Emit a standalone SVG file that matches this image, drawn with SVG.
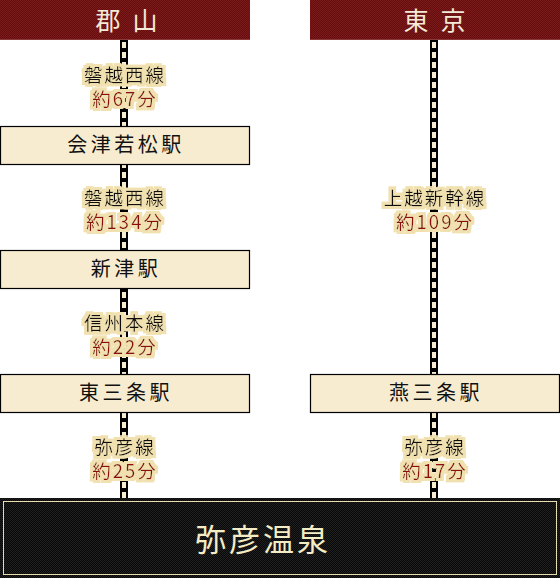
<svg xmlns="http://www.w3.org/2000/svg" width="560" height="578" viewBox="0 0 560 578">
<defs>
<pattern id="redck" width="2" height="2" patternUnits="userSpaceOnUse">
<rect width="2" height="2" fill="#680d0d"/>
<rect width="1" height="1" fill="#7a1a1a"/>
<rect x="1" y="1" width="1" height="1" fill="#7a1a1a"/>
</pattern>
<pattern id="blkck" width="2" height="2" patternUnits="userSpaceOnUse">
<rect width="2" height="2" fill="#080808"/>
<rect width="1" height="1" fill="#202020"/>
<rect x="1" y="1" width="1" height="1" fill="#202020"/>
</pattern>
<filter id="glow" x="-20%" y="-40%" width="140%" height="180%">
<feMorphology in="SourceAlpha" operator="dilate" radius="2.5" result="d"/>
<feGaussianBlur in="d" stdDeviation="0.7" result="b"/>
<feFlood flood-color="#f1e1b0"/>
<feComposite in2="b" operator="in" result="g"/>
<feMerge><feMergeNode in="g"/><feMergeNode in="g"/><feMergeNode in="SourceGraphic"/></feMerge>
</filter>
</defs>
<style>
.hdr{fill:url(#redck)}
.htxt{font-family:"Noto Sans CJK JP","Noto Sans CJK SC",sans-serif;font-size:25px;fill:#f3ead8;text-anchor:middle}
.stn{fill:#f8ecd0;stroke:#000;stroke-width:1.2}
.stxt{font-family:"Noto Sans CJK JP","Noto Sans CJK SC",sans-serif;font-size:20px;fill:#111;text-anchor:middle;letter-spacing:3.5px}
.lbl{font-family:"Noto Sans CJK JP","Noto Sans CJK SC",sans-serif;font-size:18.5px;text-anchor:middle;letter-spacing:2px}
.ln{fill:#111}
.tm{fill:#8b0a0a}
.rail{stroke:#000;stroke-width:8;fill:none}
.tie{stroke:#f8ecd0;stroke-width:4;fill:none;stroke-dasharray:6 4}
</style>
<g id="connectors">
<line class="rail" x1="124" y1="40" x2="124" y2="498"/>
<line class="tie" x1="124" y1="42" x2="124" y2="498"/>
<line class="rail" x1="434" y1="40" x2="434" y2="498"/>
<line class="tie" x1="434" y1="42" x2="434" y2="498"/>
</g>
<g id="labels" filter="url(#glow)">
<text class="lbl ln" x="125" y="82">磐越西線</text>
<text class="lbl tm" x="125" y="106">約67分</text>
<text class="lbl ln" x="125" y="205">磐越西線</text>
<text class="lbl tm" x="125" y="229">約134分</text>
<text class="lbl ln" x="125" y="330">信州本線</text>
<text class="lbl tm" x="125" y="354">約22分</text>
<text class="lbl ln" x="125" y="454">弥彦線</text>
<text class="lbl tm" x="125" y="478">約25分</text>
<text class="lbl ln" x="435" y="205">上越新幹線</text>
<text class="lbl tm" x="435" y="229">約109分</text>
<text class="lbl ln" x="435" y="454">弥彦線</text>
<text class="lbl tm" x="435" y="478">約17分</text>
</g>
<g id="koriyama">
<rect class="hdr" x="0" y="0" width="250" height="40"/>
<rect x="0" y="39" width="250" height="1" fill="#8a3a3a"/>
<text class="htxt" x="108 145" y="30">郡山</text>
</g>
<g id="tokyo">
<rect class="hdr" x="310" y="0" width="250" height="40"/>
<rect x="310" y="39" width="250" height="1" fill="#8a3a3a"/>
<text class="htxt" x="416 453" y="30">東京</text>
</g>
<g id="aizuwakamatsu">
<rect class="stn" x="0.5" y="126.5" width="249" height="38"/>
<text class="stxt" x="126" y="152">会津若松駅</text>
</g>
<g id="niitsu">
<rect class="stn" x="0.5" y="250.5" width="249" height="38"/>
<text class="stxt" x="126" y="276">新津駅</text>
</g>
<g id="higashisanjo">
<rect class="stn" x="0.5" y="374.5" width="249" height="38"/>
<text class="stxt" x="126" y="400">東三条駅</text>
</g>
<g id="tsubamesanjo">
<rect class="stn" x="310.5" y="374.5" width="249" height="38"/>
<text class="stxt" x="436" y="400">燕三条駅</text>
</g>
<g id="yahikoonsen">
<rect x="0" y="498" width="560" height="80" fill="url(#blkck)"/>
<rect x="3.5" y="501.5" width="553" height="73" fill="none" stroke="#e8dcb0" stroke-width="1"/>
<text x="263" y="551" font-family="'Noto Sans CJK JP','Noto Sans CJK SC',sans-serif" font-size="31" fill="#f4ecc4" text-anchor="middle" letter-spacing="3">弥彦温泉</text>
</g>
</svg>
